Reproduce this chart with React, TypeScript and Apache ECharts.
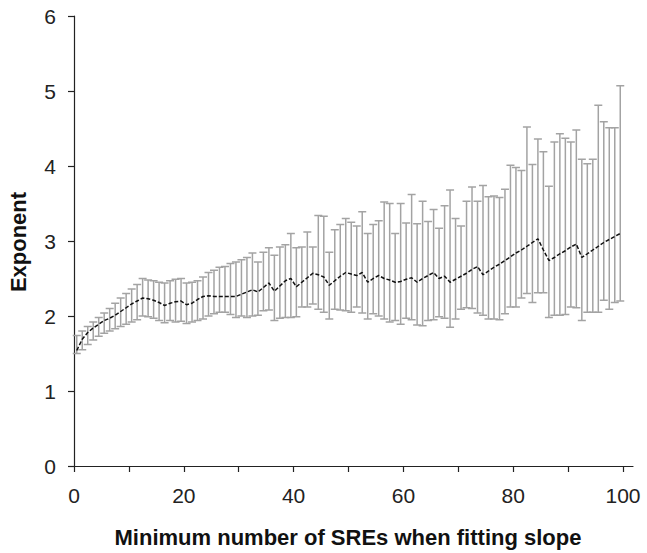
import React, { useEffect, useRef } from "react";
import * as echarts from "echarts";

// Category index (minimum number of SREs), 1..100
const categories = [
  1, 2, 3, 4, 5, 6, 7, 8, 9, 10,
  11, 12, 13, 14, 15, 16, 17, 18, 19, 20,
  21, 22, 23, 24, 25, 26, 27, 28, 29, 30,
  31, 32, 33, 34, 35, 36, 37, 38, 39, 40,
  41, 42, 43, 44, 45, 46, 47, 48, 49, 50,
  51, 52, 53, 54, 55, 56, 57, 58, 59, 60,
  61, 62, 63, 64, 65, 66, 67, 68, 69, 70,
  71, 72, 73, 74, 75, 76, 77, 78, 79, 80,
  81, 82, 83, 84, 85, 86, 87, 88, 89, 90,
  91, 92, 93, 94, 95, 96, 97, 98, 99, 100,
];

const meanValues = [
  1.54, 1.69, 1.78, 1.84, 1.89, 1.94, 1.97, 2.01, 2.06, 2.11,
  2.16, 2.2, 2.24, 2.23, 2.21, 2.18, 2.14, 2.17, 2.19, 2.2,
  2.15, 2.17, 2.22, 2.26, 2.27, 2.26, 2.26, 2.26, 2.26, 2.26,
  2.29, 2.32, 2.35, 2.32, 2.38, 2.44, 2.33, 2.4, 2.47, 2.5,
  2.39, 2.45, 2.51, 2.57, 2.55, 2.52, 2.41, 2.47, 2.53, 2.58,
  2.56, 2.54, 2.58, 2.45, 2.5, 2.54, 2.5, 2.48, 2.45, 2.46,
  2.49, 2.51, 2.45, 2.5, 2.54, 2.58, 2.5, 2.53, 2.45, 2.49,
  2.53, 2.57, 2.62, 2.66, 2.55, 2.6, 2.65, 2.69, 2.74, 2.79,
  2.84, 2.88, 2.93, 2.98, 3.03, 2.88, 2.74, 2.78, 2.83, 2.87,
  2.92, 2.96, 2.78, 2.83, 2.88, 2.93, 2.98, 3.02, 3.06, 3.1,
];

const upperValues = [
  1.74, 1.8, 1.86, 1.92, 1.98, 2.04, 2.1, 2.17, 2.24, 2.3,
  2.36, 2.42, 2.5, 2.48, 2.47, 2.45, 2.44, 2.47, 2.49, 2.5,
  2.44, 2.45, 2.47, 2.52, 2.58, 2.61, 2.65, 2.66, 2.7, 2.72,
  2.75, 2.78, 2.84, 2.72, 2.85, 2.91, 2.81, 2.92, 2.95, 3.1,
  2.91, 2.92, 3.12, 2.92, 3.34, 3.33, 2.85, 3.15, 3.22, 3.3,
  3.25, 3.2, 3.39, 3.1, 3.22, 3.27, 3.52, 3.5, 3.1, 3.5,
  3.24, 3.62, 3.23, 3.53, 3.26, 3.42, 3.17, 3.47, 3.68, 3.3,
  3.2, 3.53, 3.72, 3.53, 3.74, 3.59, 3.6, 3.58, 3.69, 4.01,
  3.98, 3.94, 4.52, 4.02, 4.36, 4.19, 3.73, 4.32, 4.43, 4.37,
  4.32, 4.48, 4.09, 4.03, 4.09, 4.81, 4.59, 4.51, 4.51, 5.07,
];

const lowerValues = [
  1.5, 1.55, 1.62, 1.68, 1.73, 1.77, 1.8, 1.83, 1.86, 1.89,
  1.92, 1.95, 2.0, 1.99, 1.97, 1.94, 1.91, 1.94, 1.92, 1.93,
  1.9, 1.92, 1.94, 1.96, 2.0, 2.03, 2.05, 2.05, 2.02, 1.98,
  2.0, 1.98, 2.0, 2.01, 2.07, 2.08, 1.94, 1.97, 1.98, 1.98,
  1.99, 2.12, 2.12, 2.16, 2.09, 2.05, 1.96, 2.09, 2.08, 2.07,
  2.05, 2.12, 2.04, 1.96, 2.03, 2.0, 1.96, 1.92, 1.94, 1.89,
  1.97, 1.95, 1.88, 1.87, 1.94, 1.95, 1.99, 1.97, 1.85, 1.96,
  2.09, 2.11, 2.1, 2.04, 2.01, 1.96, 1.96, 1.95, 2.03, 2.12,
  2.12, 2.24, 2.3, 2.18, 2.31, 2.31, 1.98, 2.01, 2.01, 2.02,
  2.12, 2.11, 1.94, 2.05, 2.05, 2.05, 2.21, 2.09, 2.18, 2.2,
];

const xAxisTitle = "Minimum number of SREs when fitting slope";
const yAxisTitle = "Exponent";

const FONT = "'Liberation Sans', Arial, Helvetica, sans-serif";
const AXIS_COLOR = "#222";
const BAR_COLOR = "#a3a3a3";

export default function App() {
  const ref = useRef<HTMLDivElement>(null);

  useEffect(() => {
    document.body.style.margin = "0";
    if (!ref.current) return;
    const chart = echarts.init(ref.current, undefined, { renderer: "svg" });

    // Excel-style category placement: each point sits in the middle of its category slot
    const errData = categories.map((c, i) => [c - 0.5, lowerValues[i], upperValues[i]]);
    const lineData = categories.map((c, i) => [c - 0.5, meanValues[i]]);

    const option: any = {
      animation: false,
      backgroundColor: "#ffffff",
      grid: [
        { left: 74, right: 24, top: 16, bottom: 87 },
        { left: 74, right: 14, top: 16, bottom: 87 },
      ],
      xAxis: [
        {
          type: "value",
          gridIndex: 0,
          min: 0,
          max: 100,
          interval: 10,
          axisLine: { show: false },
          axisTick: {
            show: true,
            inside: false,
            length: 6,
            lineStyle: { color: AXIS_COLOR, width: 1.2 },
          },
          axisLabel: {
            margin: 19,
            fontFamily: FONT,
            fontSize: 21,
            color: AXIS_COLOR,
            formatter: (v: number) => (v % 20 === 0 ? String(v) : ""),
          },
          splitLine: { show: false },
        },
        {
          type: "value",
          gridIndex: 1,
          min: 0,
          max: 1,
          axisLine: { show: true, lineStyle: { color: AXIS_COLOR, width: 1.2 } },
          axisTick: { show: false },
          axisLabel: { show: false },
          splitLine: { show: false },
        },
      ],
      yAxis: [
        {
          type: "value",
          gridIndex: 0,
          min: 0,
          max: 6,
          interval: 1,
          axisLine: { show: true, lineStyle: { color: AXIS_COLOR, width: 1.2 } },
          axisTick: {
            show: true,
            inside: false,
            length: 6,
            lineStyle: { color: AXIS_COLOR, width: 1.2 },
          },
          axisLabel: {
            margin: 18,
            fontFamily: FONT,
            fontSize: 21,
            color: AXIS_COLOR,
          },
          splitLine: { show: false },
        },
        {
          type: "value",
          gridIndex: 1,
          show: false,
          min: 0,
          max: 1,
        },
      ],
      graphic: [
        {
          type: "text",
          x: 348,
          y: 537,
          style: {
            text: xAxisTitle,
            fontFamily: FONT,
            fontSize: 22,
            fontWeight: "bold",
            fill: "#111",
            textAlign: "center",
            textVerticalAlign: "middle",
          },
        },
        {
          type: "text",
          x: 18,
          y: 242,
          rotation: Math.PI / 2,
          style: {
            text: yAxisTitle,
            fontFamily: FONT,
            fontSize: 22,
            fontWeight: "bold",
            fill: "#111",
            textAlign: "center",
            textVerticalAlign: "middle",
          },
        },
      ],
      series: [
        {
          type: "custom",
          xAxisIndex: 0,
          yAxisIndex: 0,
          data: errData,
          encode: { x: 0, y: [1, 2] },
          z: 1,
          renderItem: (_params: any, api: any) => {
            const x = api.value(0);
            const lo = api.value(1);
            const hi = api.value(2);
            const top = api.coord([x, hi]);
            const bot = api.coord([x, lo]);
            const hw = 4;
            const style = { stroke: BAR_COLOR, lineWidth: 1.5 };
            return {
              type: "group",
              children: [
                { type: "line", shape: { x1: top[0], y1: top[1], x2: bot[0], y2: bot[1] }, style },
                { type: "line", shape: { x1: top[0] - hw, y1: top[1], x2: top[0] + hw, y2: top[1] }, style },
                { type: "line", shape: { x1: bot[0] - hw, y1: bot[1], x2: bot[0] + hw, y2: bot[1] }, style },
              ],
            };
          },
        },
        {
          type: "line",
          xAxisIndex: 0,
          yAxisIndex: 0,
          data: lineData,
          showSymbol: false,
          symbol: "none",
          z: 5,
          lineStyle: { color: "#111", width: 1.5, type: [4, 2] },
        },
      ],
    };

    chart.setOption(option);
    return () => {
      chart.dispose();
    };
  }, []);

  return <div ref={ref} style={{ width: 647, height: 553 }} />;
}
